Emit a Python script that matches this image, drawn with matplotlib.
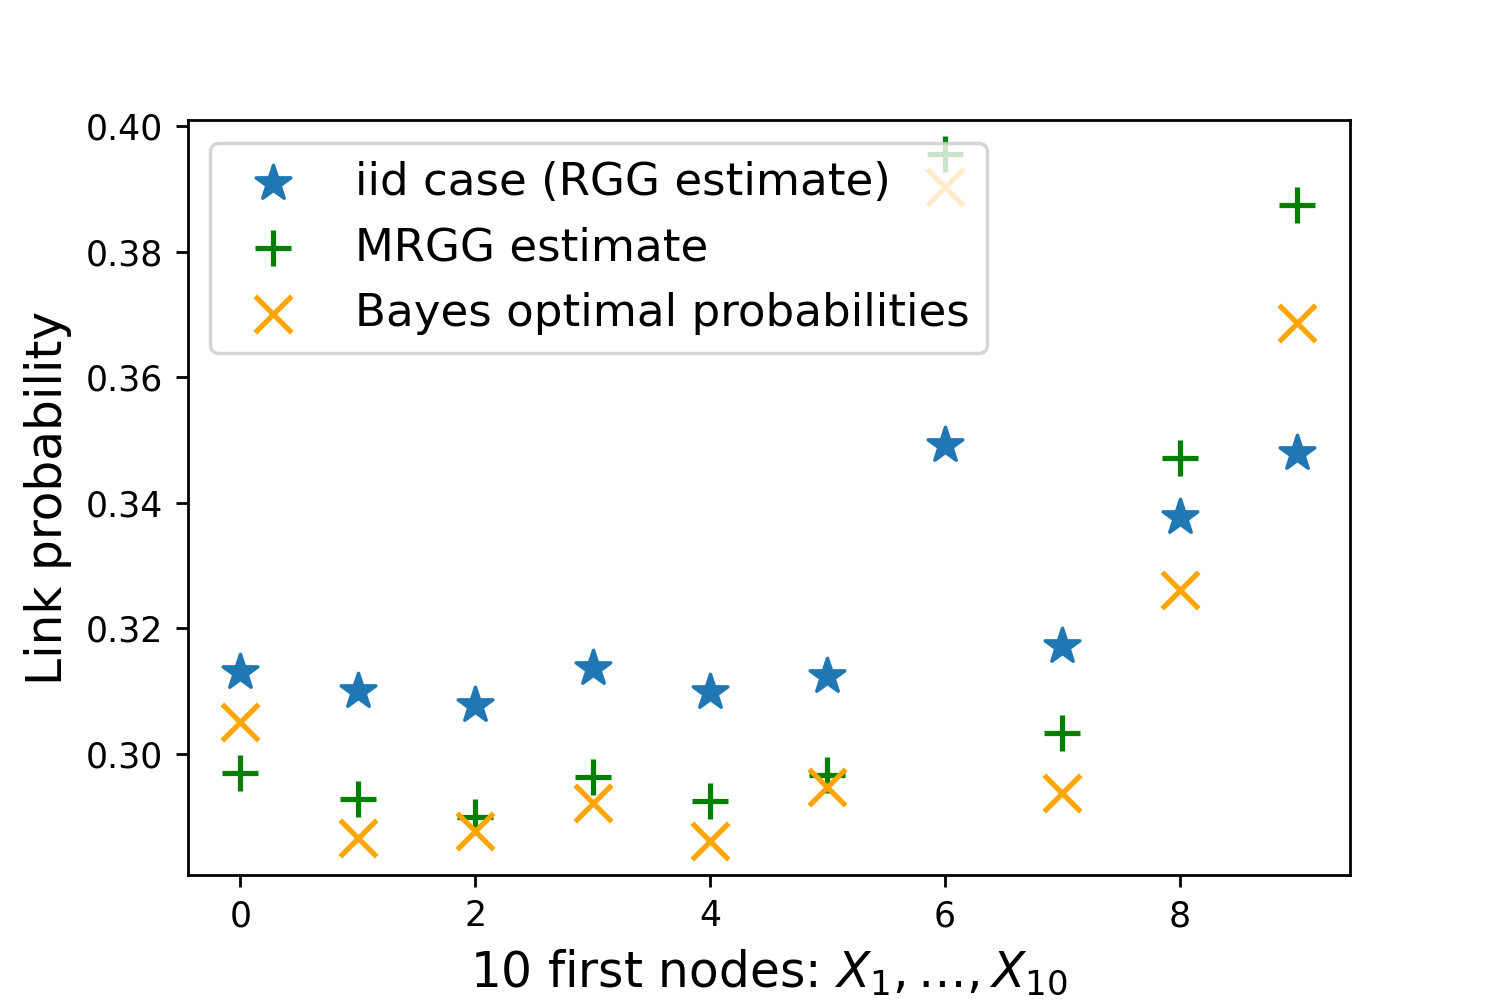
import numpy as np
import matplotlib.pyplot as plt

nodes = np.arange(10)
iid_rgg = [0.3131, 0.3100, 0.3078, 0.3137, 0.3099, 0.3124, 0.3492, 0.3172, 0.3377, 0.3479]
mrgg = [0.2970, 0.2928, 0.2900, 0.2963, 0.2925, 0.2967, 0.3955, 0.3033, 0.3471, 0.3874]
bayes = [0.3051, 0.2866, 0.2877, 0.2922, 0.2862, 0.2947, 0.3903, 0.2938, 0.3261, 0.3686]

fig = plt.figure(figsize=(6, 4), dpi=250)
plt.subplots_adjust(left=0.125, right=0.9, top=0.88, bottom=0.125)

plt.scatter(nodes, iid_rgg, marker='*', s=110, label='iid case (RGG estimate)')
plt.scatter(nodes, mrgg, marker='+', s=110, color='green', label='MRGG estimate')
plt.scatter(nodes, bayes, marker='x', s=110, color='orange', label='Bayes optimal probabilities')

plt.xlabel(r'10 first nodes: $X_1, \ldots, X_{10}$', fontsize=14)
plt.ylabel('Link probability', fontsize=14)
plt.legend(loc='upper left', fontsize=13)
plt.savefig('out.png')
